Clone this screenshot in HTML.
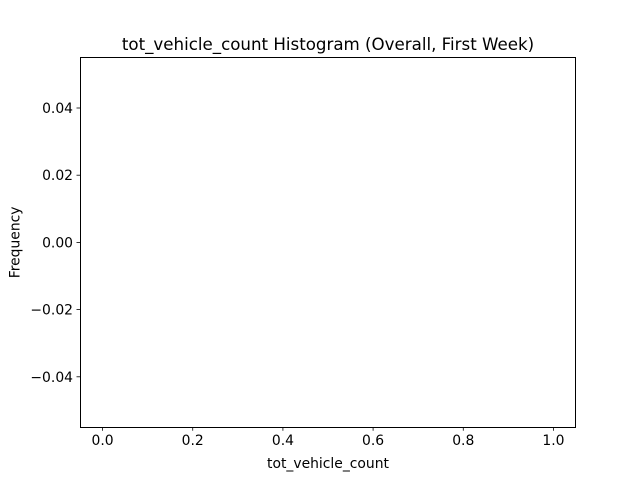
<!DOCTYPE html>
<html><head><meta charset="utf-8">
<style>
html,body{margin:0;padding:0;background:#fff;}
svg{display:block;font-family:"DejaVu Sans","Liberation Sans",sans-serif;}
</style></head>
<body>
<svg id="chart" width="640" height="480" viewBox="0 0 640 480" xmlns="http://www.w3.org/2000/svg">
<rect width="640" height="480" fill="#fff"/>
<text x="328" y="50" font-size="16.67" text-anchor="middle">tot_vehicle_count Histogram (Overall, First Week)</text>
<g id="bars"></g>
<g id="xticks"></g>
<g id="yticks"></g>
<rect x="80.5" y="57.5" width="495" height="370" fill="none" stroke="#000" stroke-width="1"/>
<text x="328" y="468" font-size="13.9" text-anchor="middle">tot_vehicle_count</text>
<text x="0" y="0" font-size="13.9" text-anchor="middle" transform="translate(19.5,242.4) rotate(-90)">Frequency</text>
</svg>
<script>
const binEdges = [];
const binCounts = [];
const xTicks = [0, 0.2, 0.4, 0.6, 0.8, 1.0];
const xTickLabels = ["0.0", "0.2", "0.4", "0.6", "0.8", "1.0"];
const yTicks = [-0.04, -0.02, 0, 0.02, 0.04];
const yTickLabels = ["\u22120.04", "\u22120.02", "0.00", "0.02", "0.04"];

const NS = "http://www.w3.org/2000/svg";
const L = 80, R = 576, T = 57.6, B = 427.2;
const xMin = -0.05, xMax = 1.05, yMin = -0.055, yMax = 0.055;
function xs(v){ return L + (v - xMin) / (xMax - xMin) * (R - L); }
function ys(v){ return B - (v - yMin) / (yMax - yMin) * (B - T); }
function mk(tag, attrs){ const e = document.createElementNS(NS, tag); for (const k in attrs) e.setAttribute(k, attrs[k]); return e; }

const xg = document.getElementById('xticks');
xTicks.forEach((v, i) => {
  const x = xs(v);
  const t = mk('line', {x1: x, x2: x, y1: B, y2: B + 3.5, stroke: '#000', 'stroke-width': 0.8});
  
  
  xg.appendChild(t);
  const l = mk('text', {x: x, y: B + 18, 'font-size': 13.9, 'text-anchor': 'middle'});
  
  
  l.textContent = xTickLabels[i];
  xg.appendChild(l);
});
const yg = document.getElementById('yticks');
yTicks.forEach((v, i) => {
  const y = ys(v);
  const t = mk('line', {x1: L - 3.5, x2: L, y1: y, y2: y, stroke: '#000', 'stroke-width': 0.8});
  
  
  yg.appendChild(t);
  const l = mk('text', {x: L - 7, y: y + 5, 'font-size': 13.9, 'text-anchor': 'end'});
  
  
  l.textContent = yTickLabels[i];
  yg.appendChild(l);
});
const bg = document.getElementById('bars');
binCounts.forEach((c, i) => {
  const x0 = xs(binEdges[i]), x1 = xs(binEdges[i + 1]);
  const r = mk('rect', {x: x0, y: ys(c), width: x1 - x0, height: ys(0) - ys(c), fill: '#1f77b4'});
  
  
  bg.appendChild(r);
});
</script>
</body></html>
